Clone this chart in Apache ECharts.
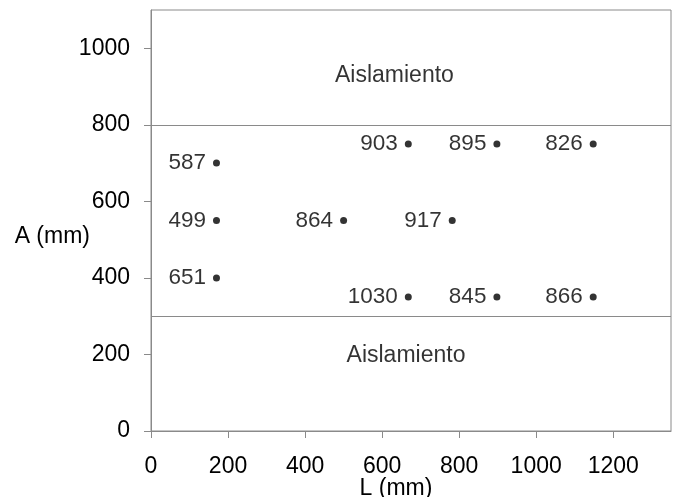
<!DOCTYPE html>
<html>
<head>
<meta charset="utf-8">
<script src="https://cdn.jsdelivr.net/npm/echarts@6/dist/echarts.min.js"></script>
<style>
  html, body { margin: 0; padding: 0; background: #fff; }
  #chart { width: 676px; height: 497px; }
</style>
</head>
<body>
<div id="chart"></div>
<script>
// Measurement positions: L (mm), A (mm) and the value measured at each
const posL = [170, 170, 170, 500, 668, 898, 1148, 782, 668, 898, 1148];
const posA = [700, 550, 400, 550, 750, 750, 750, 550, 350, 350, 350];
const values = [587, 499, 651, 864, 903, 895, 826, 917, 1030, 845, 866];

// Insulation limits (A, mm) and the zone captions
const insulationLimits = [800, 300];
const zoneNames = ['Aislamiento', 'Aislamiento'];
const zoneL = [632, 662];
const zoneA = [928, 196];

const font = "'Liberation Sans', Arial, sans-serif";
const axisGray = '#8a8a8a';
const ink = '#000';

const points = posL.map((l, i) => [l, posA[i], values[i]]);
const zones = zoneNames.map((n, i) => ({ name: n, value: [zoneL[i], zoneA[i]] }));

const chart = echarts.init(document.getElementById('chart'));
chart.setOption({
  animation: false,
  backgroundColor: '#fff',
  grid: {
    left: 151, right: 5, top: 10, bottom: 66,
    outerBoundsMode: 'none', containLabel: false,
    show: true, borderColor: axisGray, borderWidth: 1, backgroundColor: 'transparent'
  },
  xAxis: {
    type: 'value', min: 0, max: 1350, interval: 200,
    name: 'L (mm)', nameLocation: 'middle', nameGap: 46, nameMoveOverlap: false,
    nameTextStyle: { fontFamily: font, fontSize: 23, color: ink, padding: [0, 30, 0, 0] },
    axisLine: { show: true, lineStyle: { color: axisGray, width: 1 } },
    axisTick: { show: true, inside: false, length: 7, lineStyle: { color: axisGray } },
    axisLabel: { fontFamily: font, fontSize: 23, color: ink, margin: 24, showMaxLabel: false,
      formatter: v => String(v) },
    splitLine: { show: false }
  },
  yAxis: {
    type: 'value', min: 0, max: 1100, interval: 200,
    name: 'A (mm)', nameLocation: 'middle', nameGap: 61, nameRotate: 0, nameMoveOverlap: false,
    nameTextStyle: { fontFamily: font, fontSize: 23, color: ink, verticalAlign: 'top', lineHeight: 32 },
    axisLine: { show: true, lineStyle: { color: axisGray, width: 1 } },
    axisTick: { show: true, inside: false, length: 7, lineStyle: { color: axisGray } },
    axisLabel: { fontFamily: font, fontSize: 23, color: ink, margin: 21, showMaxLabel: false,
      formatter: v => String(v) },
    splitLine: { show: false }
  },
  series: [
    {
      type: 'scatter',
      data: points,
      symbol: 'circle',
      symbolSize: 7,
      itemStyle: { color: '#000' },
      label: {
        show: true, position: 'left', distance: 7,
        formatter: p => String(p.value[2]),
        fontFamily: font, fontSize: 22.5, color: ink
      },
      markLine: {
        silent: true,
        symbol: ['none', 'none'],
        label: { show: false },
        lineStyle: { color: axisGray, width: 1, type: 'solid' },
        data: insulationLimits.map(v => ({ yAxis: v }))
      }
    },
    {
      type: 'scatter',
      data: zones,
      symbolSize: 0,
      label: {
        show: true, position: 'inside',
        formatter: p => p.name,
        fontFamily: font, fontSize: 23, color: ink
      }
    }
  ]
});
</script>
</body>
</html>
